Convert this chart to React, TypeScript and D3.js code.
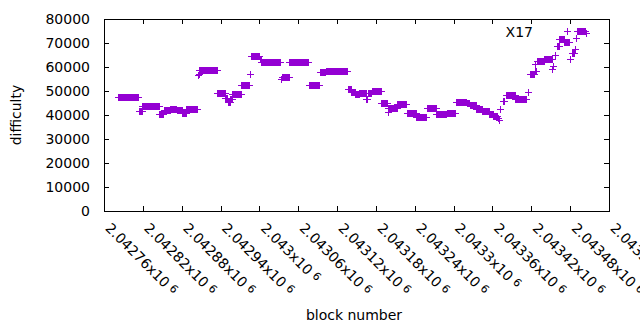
import React from 'react';
import * as d3 from 'd3';

// Runs of consecutive blocks sharing one difficulty value (inclusive block ranges)
const runStart = [
  2042782, 2042815, 2042820, 2042846, 2042853, 2042863, 2042873, 2042882, 2042888, 2042906,
  2042907, 2042908, 2042936, 2042948, 2042952, 2042956, 2042959, 2042973, 2042986, 2042988,
  2043001, 2043004, 2043034, 2043035, 2043047, 2043077, 2043094, 2043103, 2043137, 2043143,
  2043149, 2043155, 2043166, 2043168, 2043174, 2043189, 2043199, 2043200, 2043214, 2043228,
  2043243, 2043259, 2043274, 2043290, 2043304, 2043321, 2043326, 2043336, 2043345, 2043356,
  2043362, 2043369, 2043371, 2043373, 2043377, 2043381, 2043396, 2043415, 2043418, 2043426,
  2043427, 2043429, 2043441, 2043453, 2043455, 2043458, 2043460, 2043464, 2043472, 2043481,
  2043483, 2043488, 2043490, 2043492, 2043505,
];
const runEnd = [
  2042814, 2042819, 2042845, 2042852, 2042862, 2042872, 2042881, 2042887, 2042905, 2042906,
  2042907, 2042935, 2042947, 2042951, 2042955, 2042958, 2042972, 2042984, 2042987, 2043000,
  2043003, 2043033, 2043034, 2043046, 2043076, 2043093, 2043102, 2043136, 2043142, 2043148,
  2043154, 2043165, 2043167, 2043173, 2043188, 2043198, 2043199, 2043213, 2043227, 2043242,
  2043258, 2043273, 2043289, 2043303, 2043320, 2043325, 2043335, 2043344, 2043355, 2043361,
  2043368, 2043370, 2043371, 2043373, 2043378, 2043395, 2043413, 2043416, 2043425, 2043426,
  2043428, 2043440, 2043452, 2043453, 2043455, 2043458, 2043463, 2043471, 2043479, 2043481,
  2043487, 2043488, 2043490, 2043503, 2043505,
];
const runDifficulty = [
  47400, 41500, 43700, 40300, 41900, 42300, 41900, 40700, 42400, 56300,
  56900, 58600, 49000, 47000, 45300, 46300, 48600, 52400, 56700, 64300,
  63000, 61900, 54600, 55700, 61900, 52100, 57800, 58200, 50700, 49200,
  48400, 49100, 46300, 48800, 49900, 44900, 41100, 42700, 44500, 40700,
  39000, 42800, 40300, 40700, 45300, 44800, 43900, 42500, 41400, 40200,
  39400, 38400, 37600, 42100, 45500, 48300, 46600, 49500, 56700, 61000,
  58000, 62300, 63300, 58800, 60100, 64600, 68500, 71300, 70300, 63300,
  65700, 67500, 72000, 74700, 74000,
];

const xTicks = d3.range(2042760, 2043541, 60);
const yTicks = d3.range(0, 80001, 10000);
const seriesName = 'X17';
const xTitle = 'block number';
const yTitle = 'difficulty';

const COLOR = '#9400d3';
const FONT = '"DejaVu Sans", Verdana, sans-serif';

function plusPath(px: number, py: number) {
  const fx = Math.floor(px);
  const fy = Math.floor(py);
  return `M${fx - 3},${fy + 0.5}H${fx + 4}M${fx + 0.5},${fy - 3}V${fy + 4}`;
}

function mantissa(v: number) {
  return parseFloat((v / 1e6).toFixed(5)).toString();
}

export default function App() {
  const W = 640, H = 330;
  const left = 104, right = 609, top = 19, bottom = 211;
  const x = d3.scaleLinear().domain([2042760, 2043540]).range([left, right]);
  const y = d3.scaleLinear().domain([0, 80000]).range([bottom, top]);

  let d = '';
  runStart.forEach((s, i) => {
    for (let b = s; b <= runEnd[i]; b++) {
      d += plusPath(x(b), y(runDifficulty[i]));
    }
  });

  return (
    <svg width={W} height={H} style={{ position: 'absolute', left: 0, top: 0, background: '#fff' }}
      fontFamily={FONT} fontSize={14}>
      <rect x={0} y={0} width={W} height={H} fill="#fff" />
      {/* ticks */}
      <g stroke="#000" strokeWidth={1} shapeRendering="crispEdges">
        {yTicks.map((t) => (
          <g key={'y' + t}>
            <line x1={left} x2={left + 5} y1={Math.round(y(t)) + 0.5} y2={Math.round(y(t)) + 0.5} />
            <line x1={right - 5} x2={right} y1={Math.round(y(t)) + 0.5} y2={Math.round(y(t)) + 0.5} />
          </g>
        ))}
        {xTicks.map((t) => (
          <g key={'x' + t}>
            <line x1={Math.round(x(t)) + 0.5} x2={Math.round(x(t)) + 0.5} y1={bottom} y2={bottom - 5} />
            <line x1={Math.round(x(t)) + 0.5} x2={Math.round(x(t)) + 0.5} y1={top} y2={top + 5} />
          </g>
        ))}
      </g>
      {/* data */}
      <path d={d} stroke={COLOR} strokeWidth={1} fill="none" shapeRendering="crispEdges" />
      {/* border */}
      <rect x={left + 0.5} y={top + 0.5} width={right - left} height={bottom - top} fill="none"
        stroke="#000" strokeWidth={1} shapeRendering="crispEdges" />
      {/* y tick labels */}
      {yTicks.map((t) => (
        <text key={'yl' + t} x={90} y={y(t) + 5} textAnchor="end" fill="#000">{t}</text>
      ))}
      {/* x tick labels */}
      {xTicks.map((t) => (
        <text key={'xl' + t} transform={`translate(${x(t) + 0.5},229) rotate(45)`} textAnchor="start" fill="#000">
          {mantissa(t)}x10<tspan dx={4} dy={-3} fontSize={11}>6</tspan>
        </text>
      ))}
      {/* axis titles */}
      <text x={354} y={320} textAnchor="middle" fill="#000">{xTitle}</text>
      <text transform="translate(21,115) rotate(-90)" textAnchor="middle" fill="#000">{yTitle}</text>
      {/* legend */}
      <text x={533} y={37} textAnchor="end" fill="#000">{seriesName}</text>
      <path d={plusPath(567, 31.5)} stroke={COLOR} strokeWidth={1} fill="none" shapeRendering="crispEdges" />
    </svg>
  );
}
